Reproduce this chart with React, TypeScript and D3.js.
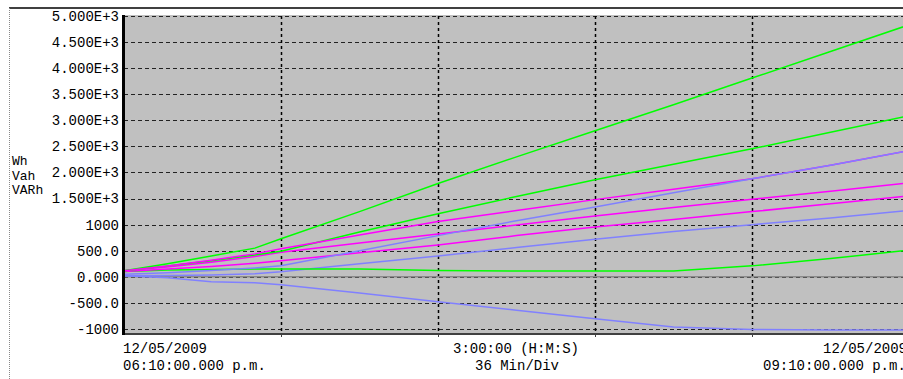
import React from "react";
import * as d3 from "d3";

// minutes since 06:10:00 p.m.
const minutes = [0, 10, 20, 30, 36, 54, 72, 90, 108, 126, 144, 162, 180];

const greenA = [115, 250, 400, 550, 730, 1250, 1790, 2300, 2800, 3300, 3810, 4320, 4830];
const greenB = [115, 210, 310, 420, 490, 860, 1210, 1540, 1860, 2160, 2454, 2770, 3090];
const greenC = [100, 130, 140, 150, 150, 150, 120, 110, 110, 110, 210, 350, 510];
const magentaA = [115, 210, 320, 440, 540, 800, 1060, 1270, 1480, 1680, 1880, 2140, 2420];
const magentaB = [115, 190, 280, 390, 470, 650, 820, 995, 1165, 1330, 1485, 1640, 1800];
const magentaC = [100, 150, 200, 260, 307, 460, 610, 790, 955, 1100, 1250, 1400, 1550];
const blueA = [50, 80, 120, 170, 211, 500, 790, 1075, 1340, 1610, 1880, 2140, 2420];
const blueB = [20, 25, 35, 60, 96, 250, 400, 560, 720, 870, 1000, 1130, 1275];
const blueC = [20, -20, -96, -115, -150, -310, -480, -640, -805, -960, -1010, -1020, -1020];

const yTicks = [5000, 4500, 4000, 3500, 3000, 2500, 2000, 1500, 1000, 500, 0, -500, -1000];
const yTickLabels = [
  "5.000E+3", "4.500E+3", "4.000E+3", "3.500E+3", "3.000E+3", "2.500E+3",
  "2.000E+3", "1.500E+3", "1000", "500.0", "0.000", "-500.0", "-1000",
];
const xGridMinutes = [36, 72, 108, 144];
const unitLabels = ["Wh", "Vah", "VARh"];

const seriesList = [
  { values: blueC, color: "#8080ff" },
  { values: blueB, color: "#8080ff" },
  { values: greenC, color: "#00ff00" },
  { values: magentaC, color: "#ff00ff" },
  { values: magentaB, color: "#ff00ff" },
  { values: greenB, color: "#00ff00" },
  { values: greenA, color: "#00ff00" },
  { values: magentaA, color: "#ff00ff" },
  { values: blueA, color: "#8080ff" },
];

const W = 903;
const H = 379;
const left = 124;
const right = 909;
const top = 16;
const bottom = 334;

export default function App() {
  const x = d3.scaleLinear().domain([0, 180]).range([left, right]);
  const y = d3.scaleLinear().domain([-1096, 5000]).range([bottom, top]);
  const line = d3
    .line<number>()
    .x((_, i) => x(minutes[i]))
    .y((d) => y(d));
  const font = "'Liberation Mono', 'DejaVu Sans Mono', monospace";

  return (
    <svg
      width={W}
      height={H}
      style={{ position: "absolute", left: 0, top: 0, background: "#fff" }}
    >
      <defs>
        <clipPath id="plot">
          <rect x={left} y={top - 1} width={right - left} height={bottom - top + 1} />
        </clipPath>
      </defs>
      {/* outer frame */}
      <line x1={9} x2={W} y1={8} y2={8} stroke="#000" strokeWidth={1.5} />
      <line x1={9.5} x2={9.5} y1={8} y2={H} stroke="#888" strokeWidth={1} strokeDasharray="1,1" />

      {/* plot background */}
      <rect x={left} y={top - 1} width={right - left} height={bottom - top + 1} fill="#c0c0c0" />

      {/* horizontal grid */}
      {yTicks.map((t) => (
        <line
          key={"h" + t}
          x1={left}
          x2={right}
          y1={Math.round(y(t)) + 0.5}
          y2={Math.round(y(t)) + 0.5}
          stroke="#222"
          strokeWidth={1}
          strokeDasharray="4,3"
        />
      ))}
      {/* vertical grid */}
      {xGridMinutes.map((m) => (
        <line
          key={"v" + m}
          x1={Math.round(x(m)) + 0.5}
          x2={Math.round(x(m)) + 0.5}
          y1={top}
          y2={bottom}
          stroke="#000"
          strokeWidth={1.5}
          strokeDasharray="3,3"
        />
      ))}
      {/* zero line */}
      <line x1={left} x2={right} y1={y(0)} y2={y(0)} stroke="#8a8a8a" strokeWidth={1.5} />

      {/* series */}
      <g clipPath="url(#plot)">
        {seriesList.map((s, i) => (
          <path
            key={i}
            d={line(s.values) || ""}
            fill="none"
            stroke={s.color}
            strokeWidth={1.5}
          />
        ))}
      </g>

      {/* axes */}
      <line x1={left} x2={right} y1={bottom} y2={bottom} stroke="#404040" strokeWidth={2} />
      {xGridMinutes.map((m) => (
        <line
          key={"t" + m}
          x1={Math.round(x(m)) + 0.5}
          x2={Math.round(x(m)) + 0.5}
          y1={bottom}
          y2={bottom + 3}
          stroke="#404040"
          strokeWidth={1}
        />
      ))}
      <line x1={left - 0.5} x2={left - 0.5} y1={top - 1} y2={bottom + 1} stroke="#000" strokeWidth={3} />

      {/* y tick labels */}
      {yTicks.map((t, i) => (
        <text
          key={"yl" + t}
          x={119}
          y={y(t)}
          dy="0.35em"
          textAnchor="end"
          fontFamily={font}
          fontSize={14}
          fill="#000"
        >
          {yTickLabels[i]}
        </text>
      ))}

      {/* unit labels */}
      {unitLabels.map((u, i) => (
        <text
          key={u}
          x={12}
          y={165 + i * 14.5}
          fontFamily={font}
          fontSize={13}
          fill="#000"
        >
          {u}
        </text>
      ))}

      {/* x labels */}
      <g fontFamily={font} fontSize={14} fill="#000">
        <text x={123} y={353}>12/05/2009</text>
        <text x={123} y={370}>06:10:00.000 p.m.</text>
        <text x={453} y={353}>3:00:00 (H:M:S)</text>
        <text x={475} y={370}>36 Min/Div</text>
        <text x={823} y={353}>12/05/2009</text>
        <text x={763} y={370}>09:10:00.000 p.m.</text>
      </g>
    </svg>
  );
}
